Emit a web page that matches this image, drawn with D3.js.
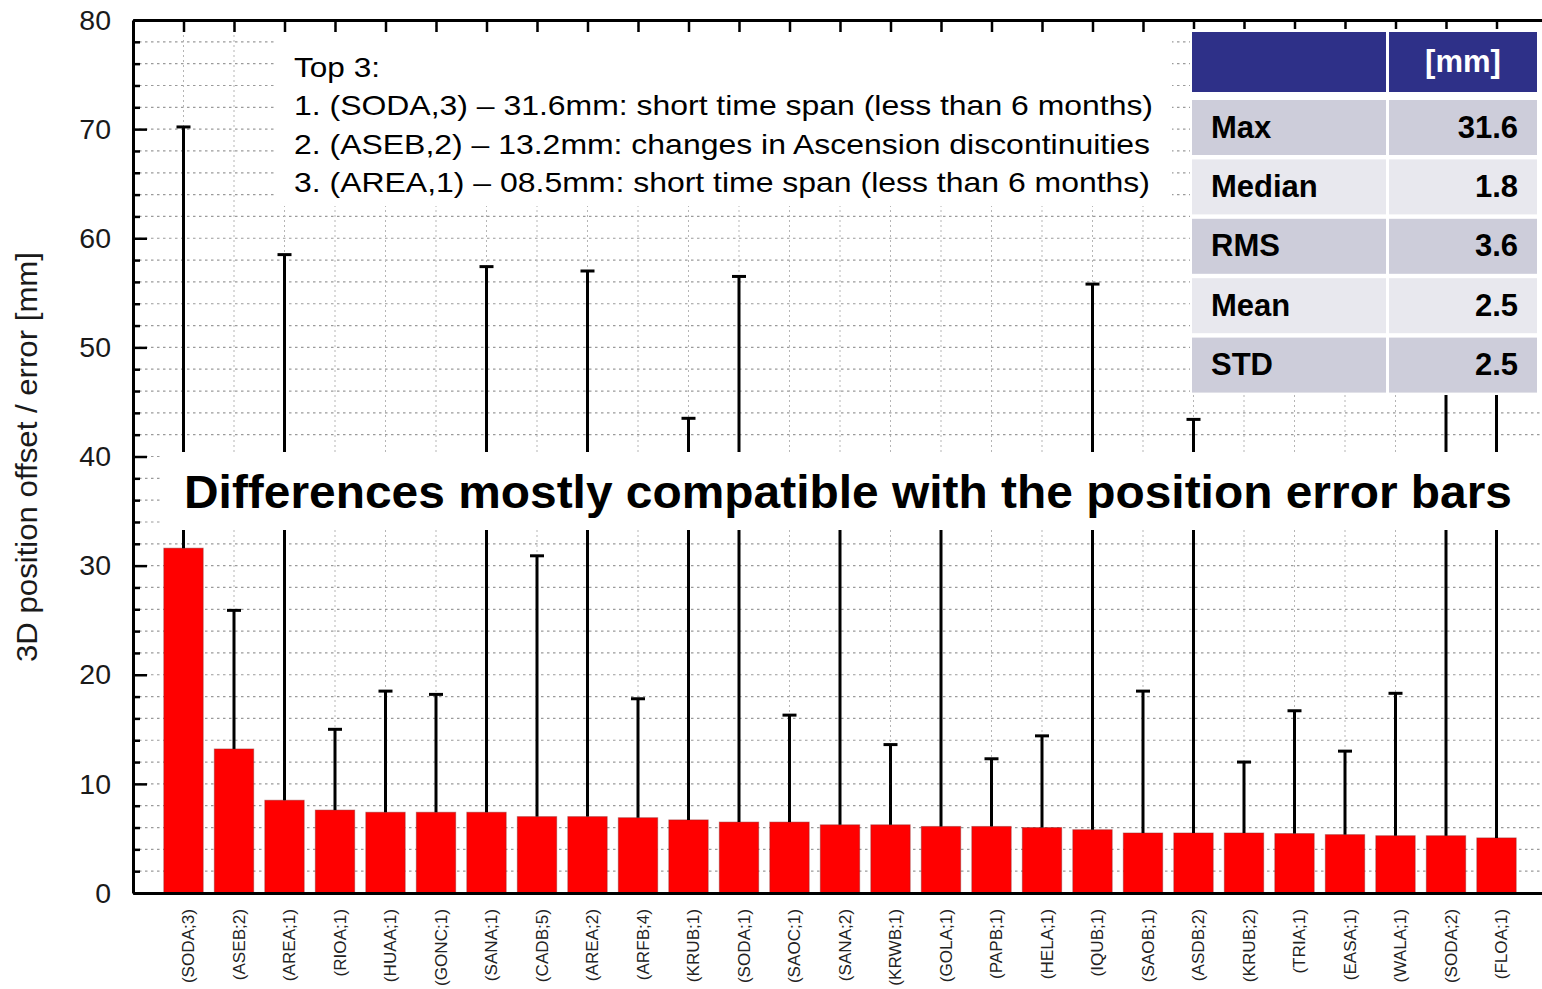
<!DOCTYPE html>
<html>
<head>
<meta charset="utf-8">
<script src="https://cdn.jsdelivr.net/npm/d3@7"></script>
<style>
  html, body { margin: 0; padding: 0; background: #fff; }
  svg { display: block; font-family: "Liberation Sans", Arial, sans-serif; }
</style>
</head>
<body>
<svg id="chart" width="1542" height="989"></svg>
<script>
// Station / solution labels, sorted by 3D offset.
const stations = [
  '(SODA;3)', '(ASEB;2)', '(AREA;1)', '(RIOA;1)', '(HUAA;1)', '(GONC;1)', '(SANA;1)',
  '(CADB;5)', '(AREA;2)', '(ARFB;4)', '(KRUB;1)', '(SODA;1)', '(SAOC;1)', '(SANA;2)',
  '(KRWB;1)', '(GOLA;1)', '(PAPB;1)', '(HELA;1)', '(IQUB;1)', '(SAOB;1)', '(ASDB;2)',
  '(KRUB;2)', '(TRIA;1)', '(EASA;1)', '(WALA;1)', '(SODA;2)', '(FLOA;1)'
];
// 3D position offset [mm]
const offsets = [
  31.6, 13.2, 8.5, 7.6, 7.4, 7.4, 7.4,
  7.0, 7.0, 6.9, 6.7, 6.5, 6.5, 6.25,
  6.25, 6.1, 6.1, 6.0, 5.8, 5.5, 5.5,
  5.5, 5.45, 5.35, 5.25, 5.25, 5.05
];
// position error [mm] (drawn upward from the bar top)
const errors = [
  38.6, 12.7, 50.0, 7.4, 11.1, 10.8, 50.0,
  23.9, 50.0, 10.9, 36.8, 50.0, 9.8, 30.0,
  7.35, 30.0, 6.2, 8.4, 50.0, 13.0, 37.9,
  6.5, 11.25, 7.65, 13.05, 50.0, 50.0
];
const yTicks = [0, 10, 20, 30, 40, 50, 60, 70, 80];
const yMinor = [2, 4, 6, 8, 12, 14, 16, 18, 22, 24, 26, 28, 32, 34, 36, 38,
                42, 44, 46, 48, 52, 54, 56, 58, 62, 64, 66, 68, 72, 74, 76, 78];

const topLines = [
  'Top 3:',
  '1. (SODA,3) – 31.6mm: short time span (less than 6 months)',
  '2. (ASEB,2) – 13.2mm: changes in Ascension discontinuities',
  '3. (AREA,1) – 08.5mm: short time span (less than 6 months)'
];
const topLineWidths = [86, 859, 856, 856];
const banner = 'Differences mostly compatible with the position error bars';
const statUnit = '[mm]';
const statNames = ['Max', 'Median', 'RMS', 'Mean', 'STD'];
const statValues = ['31.6', '1.8', '3.6', '2.5', '2.5'];
const yTitle = '3D position offset / error [mm]';

const svg = d3.select('#chart');
const W = 1542;

const x = d3.scaleLinear().domain([0, stations.length + 1]).range([133, 133 + 50.5 * 28]);
const y = d3.scaleLinear().domain([0, 80]).range([893, 20]);
const barW = x(0.78) - x(0);
const idx = d3.range(stations.length);

// grid
const grid = svg.append('g');
grid.selectAll('line.h')
  .data(d3.range(2, 80, 2))
  .join('line')
  .attr('x1', x(0)).attr('x2', W)
  .attr('y1', d => y(d)).attr('y2', d => y(d))
  .attr('stroke', '#9a9a9a').attr('stroke-width', 1.2)
  .attr('stroke-dasharray', '2.5,3.5');
grid.selectAll('line.v')
  .data(idx)
  .join('line')
  .attr('x1', i => x(i + 1)).attr('x2', i => x(i + 1))
  .attr('y1', y(80)).attr('y2', y(0))
  .attr('stroke', '#b5b5b5').attr('stroke-width', 1)
  .attr('stroke-dasharray', '2,3');

// bars
svg.append('g')
  .selectAll('rect')
  .data(idx)
  .join('rect')
  .attr('x', i => x(i + 1) - barW / 2)
  .attr('y', i => y(offsets[i]))
  .attr('width', barW)
  .attr('height', i => y(0) - y(offsets[i]))
  .attr('fill', '#ff0000')
  .attr('stroke', 'rgba(140,40,40,0.45)')
  .attr('stroke-width', 1);

// error bars
const eb = svg.append('g').attr('stroke', '#000').attr('stroke-width', 3);
eb.selectAll('line.stem')
  .data(idx)
  .join('line')
  .attr('x1', i => x(i + 1)).attr('x2', i => x(i + 1))
  .attr('y1', i => y(offsets[i])).attr('y2', i => y(offsets[i] + errors[i]));
eb.selectAll('line.cap')
  .data(idx)
  .join('line')
  .attr('x1', i => x(i + 1) - 7).attr('x2', i => x(i + 1) + 7)
  .attr('y1', i => y(offsets[i] + errors[i])).attr('y2', i => y(offsets[i] + errors[i]));

// axes
const styleAxis = (g, w) => {
  g.select('.domain').attr('stroke', '#000').attr('stroke-width', w);
  g.selectAll('.tick line').attr('stroke', '#000').attr('stroke-width', 2.5);
};

svg.append('g')
  .attr('transform', `translate(0,${y(80)})`)
  .call(d3.axisTop(x).tickValues(d3.range(1, stations.length + 1)).tickFormat('')
    .tickSizeInner(-12).tickSizeOuter(0))
  .call(g => styleAxis(g, 3));

// white boxes (annotation area, banner strip, stats table)
const white = svg.append('g').attr('fill', '#fff');
white.append('rect').attr('x', 276).attr('y', 34).attr('width', 896).attr('height', 172);
white.append('rect').attr('x', 162).attr('y', 452).attr('width', W - 162).attr('height', 78);
white.append('rect').attr('x', 1190).attr('y', 29).attr('width', W - 1190).attr('height', 366);

const yAxis = svg.append('g')
  .attr('transform', `translate(${x(0)},0)`)
  .call(d3.axisLeft(y).tickValues(yTicks).tickSizeInner(-14).tickSizeOuter(0).tickPadding(22))
  .call(g => styleAxis(g, 3));
yAxis.selectAll('.tick text')
  .attr('font-size', 28.5).attr('fill', '#1a1a1a')
  .attr('font-family', '"Liberation Sans", Arial, sans-serif');

svg.append('g')
  .attr('transform', `translate(${x(0)},0)`)
  .call(d3.axisLeft(y).tickValues(yMinor).tickSizeInner(-7).tickSizeOuter(0).tickFormat(''))
  .call(g => { g.select('.domain').remove(); g.selectAll('.tick line').attr('stroke', '#000').attr('stroke-width', 2.5); });

const xAxis = svg.append('g')
  .attr('transform', `translate(0,${y(0)})`)
  .call(d3.axisBottom(x).tickValues(d3.range(1, stations.length + 1))
    .tickFormat(d => stations[d - 1]).tickSize(0))
  .call(g => styleAxis(g, 3));
xAxis.selectAll('.tick text')
  .attr('x', 0).attr('y', 0).attr('dy', null)
  .attr('text-anchor', 'end')
  .attr('transform', 'translate(10,16) rotate(-90) scale(1.07,1)')
  .attr('font-size', 16).attr('fill', '#222')
  .attr('font-family', '"Liberation Sans", Arial, sans-serif');

// y title
svg.append('text')
  .attr('transform', 'translate(37,457) rotate(-90)')
  .attr('text-anchor', 'middle')
  .attr('font-size', 29).attr('fill', '#1a1a1a')
  .attr('textLength', 410).attr('lengthAdjust', 'spacingAndGlyphs')
  .text(yTitle);

// top-3 annotation
svg.append('g')
  .selectAll('text')
  .data(topLines)
  .join('text')
  .attr('x', 294)
  .attr('y', (d, i) => 77 + i * 38.3)
  .attr('font-size', 28).attr('fill', '#000')
  .attr('textLength', (d, i) => topLineWidths[i])
  .attr('lengthAdjust', 'spacingAndGlyphs')
  .text(d => d);

// banner
svg.append('text')
  .attr('x', 184).attr('y', 508)
  .attr('font-size', 47).attr('font-weight', 'bold').attr('fill', '#000')
  .attr('textLength', 1328).attr('lengthAdjust', 'spacingAndGlyphs')
  .text(banner);

// stats table
const col1 = { x: 1192, w: 194 }, col2 = { x: 1389, w: 148 };
const tbl = svg.append('g').attr('font-weight', 'bold').attr('font-size', 31);
tbl.append('rect').attr('x', col1.x).attr('y', 32).attr('width', col1.w).attr('height', 60).attr('fill', '#2e3088');
tbl.append('rect').attr('x', col2.x).attr('y', 32).attr('width', col2.w).attr('height', 60).attr('fill', '#2e3088');
tbl.append('text').attr('x', col2.x + col2.w / 2).attr('y', 72).attr('text-anchor', 'middle')
  .attr('fill', '#fff').text(statUnit);

const rowTop = i => 100 + i * 59.4;
const rowH = 55;
const rows = tbl.selectAll('g.row')
  .data(statNames)
  .join('g');
rows.append('rect').attr('x', col1.x).attr('y', (d, i) => rowTop(i))
  .attr('width', col1.w).attr('height', rowH)
  .attr('fill', (d, i) => i % 2 ? '#e8e8ee' : '#cdcdda');
rows.append('rect').attr('x', col2.x).attr('y', (d, i) => rowTop(i))
  .attr('width', col2.w).attr('height', rowH)
  .attr('fill', (d, i) => i % 2 ? '#e8e8ee' : '#cdcdda');
rows.append('text').attr('x', 1211).attr('y', (d, i) => rowTop(i) + rowH / 2 + 10)
  .attr('fill', '#000').text(d => d);
rows.append('text').attr('x', 1518).attr('y', (d, i) => rowTop(i) + rowH / 2 + 10)
  .attr('text-anchor', 'end').attr('fill', '#000').text((d, i) => statValues[i]);
</script>
</body>
</html>
